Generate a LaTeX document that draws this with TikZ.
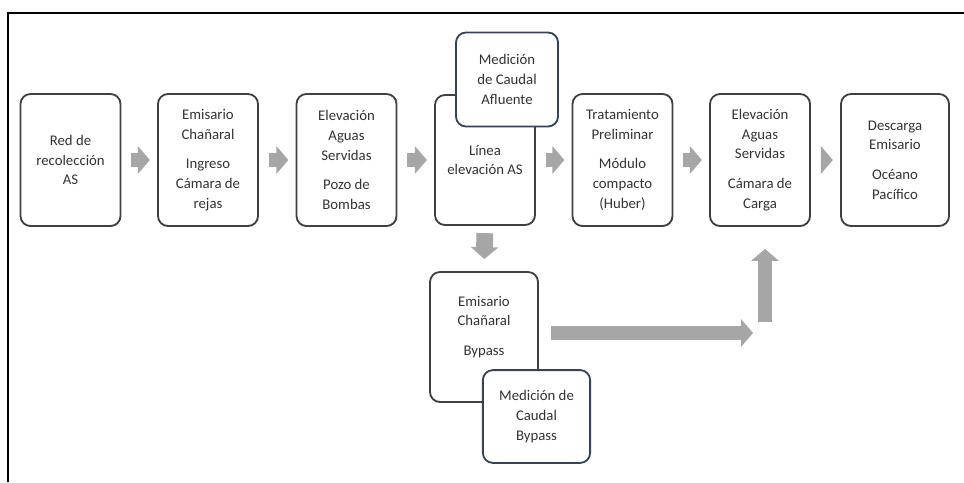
\documentclass[tikz,border=0pt]{standalone}
\usepackage{fontspec}
\setmainfont{Carlito}
\usetikzlibrary{arrows.meta}
\definecolor{flowgray}{HTML}{A6A6A6}
\definecolor{boxline}{HTML}{404040}
\definecolor{medline}{HTML}{34435A}
\definecolor{txtgray}{HTML}{333333}
\begin{document}
\begin{tikzpicture}[x=0.025cm, y=-0.025cm,
    etapa/.style = {draw=boxline, fill=white, line width=1.3pt, rounded corners=0.25cm,
      minimum width=2.5cm, minimum height=3.3cm, align=center, text=txtgray,
      font=\fontsize{10.5}{14}\selectfont},
    medicion/.style = {etapa, draw=medline, minimum width=2.55cm, minimum height=2.35cm},
    flujo/.style = {draw=flowgray, line width=0.37cm,
      -{Triangle[length=0.3cm, width=0.68cm]}}
]
    \useasboundingbox (0,0) rectangle (964,482);
    \draw[line width=2pt] (8,482) -- (8,13) -- (964,13);
    % linea principal
    \node[etapa] (red) at (70.5,160) {Red de\\recolección\\AS};
    \node[etapa] (camara) at (208,160) {Emisario\\Chañaral\\[7pt]Ingreso\\Cámara de\\rejas};
    \node[etapa] (pozo) at (346.5,160) {Elevación\\Aguas\\Servidas\\[7pt]Pozo de\\Bombas};
    \node[etapa, minimum height=3.25cm] (linea) at (485,160) {Línea\\elevación AS};
    \node[medicion] (afluente) at (507,79.5) {Medición\\de Caudal\\Afluente};
    \node[etapa] (huber) at (622.5,160) {Tratamiento\\Preliminar\\[7pt]Módulo\\compacto\\(Huber)};
    \node[etapa] (carga) at (760,160) {Elevación\\Aguas\\Servidas\\[7pt]Cámara de\\Carga};
    \node[etapa, minimum width=2.7cm] (oceano) at (895,160) {Descarga\\Emisario\\[7pt]Océano\\Pacífico};
    % bypass
    \node[etapa, minimum width=2.7cm, minimum height=3.25cm] (bypass) at (484,337) {Emisario\\Chañaral\\[7pt]Bypass\\[2pt]};
    \node[medicion, minimum width=2.68cm, minimum height=2.32cm] (medbypass) at (536.5,416.5) {Medición de\\Caudal\\Bypass};
    \coordinate (codo) at (753,333);
    \coordinate (subida) at (765,322);
    % flechas
    \foreach \a/\b in {red/camara, camara/pozo, pozo/linea, linea/huber, huber/carga, carga/oceano}
        \draw[flujo, shorten <=0.25cm, shorten >=0.18cm] (\a.east) -- (\b.west);
    \draw[flujo, line width=0.42cm, shorten <=0.18cm, shorten >=0.3cm] (linea.south) -- (bypass.north);
    \draw[flujo, shorten <=0.3cm] (bypass.east |- codo) -- (codo);
    \draw[flujo, shorten >=0.55cm] (subida) -- (subida |- carga.south);
\end{tikzpicture}
\end{document}
